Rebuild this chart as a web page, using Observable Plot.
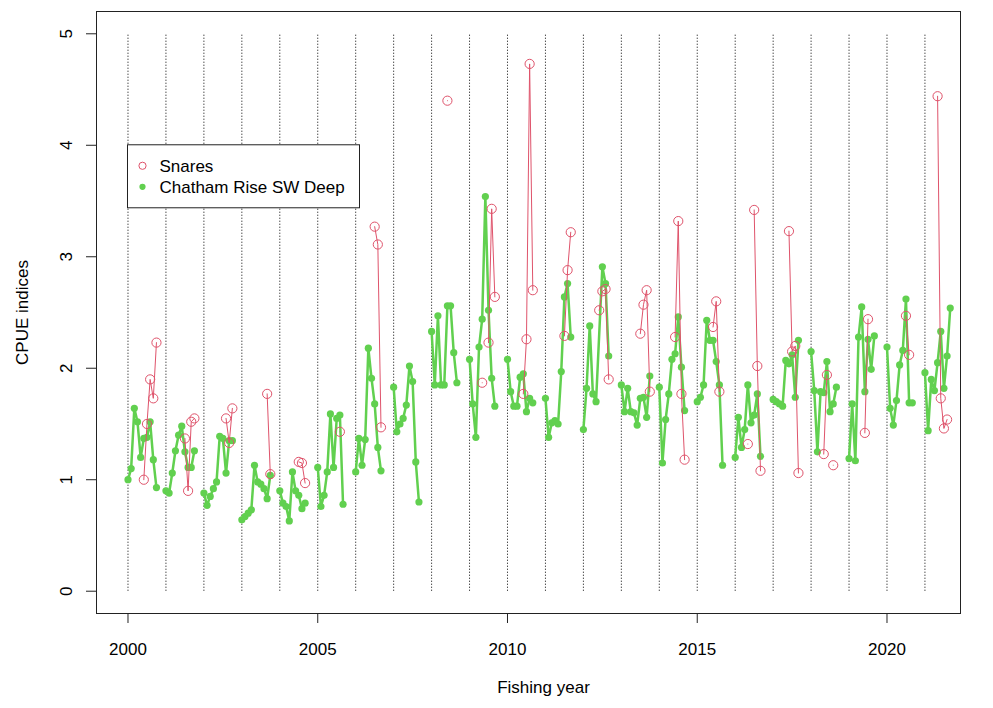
<!DOCTYPE html>
<html><head><meta charset="utf-8">
<script src="https://cdn.jsdelivr.net/npm/d3@7"></script>
<script src="https://cdn.jsdelivr.net/npm/@observablehq/plot@0.6"></script>
<style>body{margin:0;background:#fff;} #chart svg{display:block;}</style>
</head><body><div id="chart"></div>
<script>
// ---- data ----
const fishingYears = [2000,2001,2002,2003,2004,2005,2006,2007,2008,2009,2010,2011,2012,2013,2014,2015,2016,2017,2018,2019,2020,2021];
// Chatham Rise SW Deep: monthly CPUE index within each fishing year (month 0 = start of year)
const chathamCPUE = [
  [1.00,1.10,1.64,1.52,1.20,1.37,1.38,1.52,1.18,0.93],
  [0.90,0.88,1.06,1.26,1.40,1.48,1.25,1.11,1.11,1.26],
  [0.88,0.77,0.85,0.92,0.98,1.39,1.37,1.06,1.35,1.35],
  [0.64,0.67,0.70,0.73,1.13,0.98,0.96,0.92,0.83,1.04],
  [0.90,0.79,0.76,0.63,1.07,0.90,0.86,0.74,0.79],
  [1.11,0.76,0.86,1.07,1.59,1.11,1.55,1.58,0.78],
  [1.07,1.37,1.13,1.36,2.18,1.91,1.68,1.29,1.08],
  [1.83,1.43,1.50,1.55,1.67,2.02,1.88,1.16,0.80],
  [2.33,1.85,2.47,1.85,1.85,2.56,2.56,2.14,1.87],
  [2.08,1.68,1.38,2.19,2.44,3.54,2.52,1.91,1.66],
  [2.08,1.79,1.66,1.66,1.92,1.95,1.61,1.73,1.69],
  [1.73,1.38,1.51,1.53,1.50,1.97,2.64,2.76,2.28],
  [1.45,1.82,2.38,1.77,1.70,null,2.91,2.76,2.11],
  [1.85,1.61,1.82,1.61,1.60,1.49,1.73,1.74,1.56,1.93],
  [1.83,1.15,1.54,1.77,2.08,2.13,2.46,2.01,1.62],
  [1.70,1.74,1.85,2.43,2.25,2.25,2.06,1.85,1.13],
  [1.20,1.56,1.29,1.45,1.85,1.51,1.58,1.77,1.21],
  [1.72,1.70,1.68,1.66,2.07,2.04,2.12,1.74,2.25],
  [2.15,1.80,1.25,1.79,1.78,2.06,1.61,1.68,1.83],
  [1.19,1.68,1.17,2.28,2.55,1.79,2.26,1.99,2.29],
  [2.19,1.64,1.49,1.71,2.03,2.16,2.62,1.69,1.69],
  [1.96,1.44,1.90,1.80,2.05,2.33,1.82,2.11,2.54]
];
// Snares: first month with a value in each fishing year, then consecutive months (null = missing)
const snaresStart = [5,6,7,8,6,7,6,0,5,4,5,6,5,6,5,5,4,5,4,5,6,4];
const snaresCPUE = [
  [1.00,1.50,1.90,1.73,2.23],
  [1.37,0.90,1.52,1.55],
  [1.55,1.33,1.64],
  [1.77,1.05],
  [1.16,1.15,0.97],
  [1.43],
  [3.27,3.11,1.47],
  [],
  [4.40],
  [1.87,null,2.23,3.43,2.64],
  [1.77,2.26,4.73,2.70],
  [2.29,2.88,3.22],
  [2.52,2.69,2.71,1.90],
  [2.31,2.57,2.70,1.79],
  [2.28,3.32,1.77,1.18],
  [2.37,2.60,1.79],
  [1.32,null,3.42,2.02,1.08],
  [3.23,2.15,2.20,1.06],
  [1.23,1.94,null,1.13],
  [1.42,2.44],
  [2.47,2.12],
  [4.44,1.73,1.46,1.54]
];
const xTicks = [2000,2005,2010,2015,2020];
const yTicks = [0,1,2,3,4,5];
const seriesNames = ["Snares","Chatham Rise SW Deep"];
const red = "#DF536B", green = "#61D04F";

// ---- tables ----
const chatham = fishingYears.flatMap((yr,i) => chathamCPUE[i].map((v,m) => ({year: yr, t: yr + m/12, v}))).filter(d => d.v != null);
const snares = fishingYears.flatMap((yr,i) => snaresCPUE[i].map((v,k) => ({year: yr, t: yr + (snaresStart[i]+k)/12, v})));

const W = 993, H = 708, mL = 96, mR = 33, mT = 11, mB = 95;
const xDom = [1999.17, 2021.937], yDom = [-0.2, 5.2];
const font = "'Liberation Sans', Arial, Helvetica, sans-serif";

const chart = Plot.plot({
  width: W, height: H,
  marginLeft: mL, marginRight: mR, marginTop: mT, marginBottom: mB,
  style: {fontFamily: font, fontSize: "17px", background: "white", color: "black"},
  x: {domain: xDom, label: null},
  y: {domain: yDom, label: null},
  marks: [
    Plot.ruleX(fishingYears, {x: d => d, y1: 0, y2: 5, stroke: "black", strokeWidth: 1, strokeDasharray: "1,2"}),
    Plot.line(chatham, {x: "t", y: "v", z: "year", stroke: green, strokeWidth: 2.5, strokeLinejoin: "round"}),
    Plot.dot(chatham, {x: "t", y: "v", r: 3.6, fill: green, stroke: "none"}),
    Plot.line(snares, {x: "t", y: "v", z: "year", stroke: red, strokeWidth: 1}),
    Plot.dot(snares, {x: "t", y: "v", r: 4.6, fill: "none", stroke: red, strokeWidth: 1}),
    Plot.frame({stroke: "#222", strokeWidth: 1}),
    Plot.axisX({ticks: xTicks, tickFormat: d => String(d), tickSize: 10, tickPadding: 19, stroke: "#222"}),
    Plot.axisY({ticks: yTicks, tickFormat: () => "", tickSize: 10, stroke: "#222"}),
    Plot.text(yTicks, {y: d => d, text: d => String(d), frameAnchor: "left", dx: -30, rotate: -90, textAnchor: "middle", lineAnchor: "middle", fontSize: 17}),
    Plot.text(["CPUE indices"], {frameAnchor: "left", dx: -74, rotate: -90, textAnchor: "middle", lineAnchor: "middle", fontSize: 17}),
    Plot.text(["Fishing year"], {frameAnchor: "bottom", dx: 15, dy: 74, textAnchor: "middle", lineAnchor: "middle", fontSize: 17})
  ]
});

// legend, anchored (like R's legend(2000, 4, ...)) at data point (2000, 4)
const sx = v => mL + (v - xDom[0]) / (xDom[1] - xDom[0]) * (W - mL - mR);
const sy = v => mT + (yDom[1] - v) / (yDom[1] - yDom[0]) * (H - mT - mB);
const svg = d3.select(chart);
const lx = sx(2000), ly = sy(4);
const g = svg.append("g").attr("font-family", font).attr("font-size", 17).attr("text-anchor", "start");
g.append("rect").attr("x", lx).attr("y", ly).attr("width", 232).attr("height", 63)
  .attr("fill", "white").attr("stroke", "#222").attr("stroke-width", 1);
g.append("circle").attr("cx", lx + 15).attr("cy", ly + 21).attr("r", 3.6)
  .style("fill", "none").style("stroke", red).style("stroke-width", 1);
g.append("circle").attr("cx", lx + 15).attr("cy", ly + 42).attr("r", 3.1)
  .style("fill", green).style("stroke", "none");
g.append("text").attr("x", lx + 32).attr("y", ly + 27).style("text-anchor", "start").style("fill", "black").text(seriesNames[0]);
g.append("text").attr("x", lx + 32).attr("y", ly + 48).style("text-anchor", "start").style("fill", "black").text(seriesNames[1]);

document.getElementById("chart").append(chart);
</script>
</body></html>
